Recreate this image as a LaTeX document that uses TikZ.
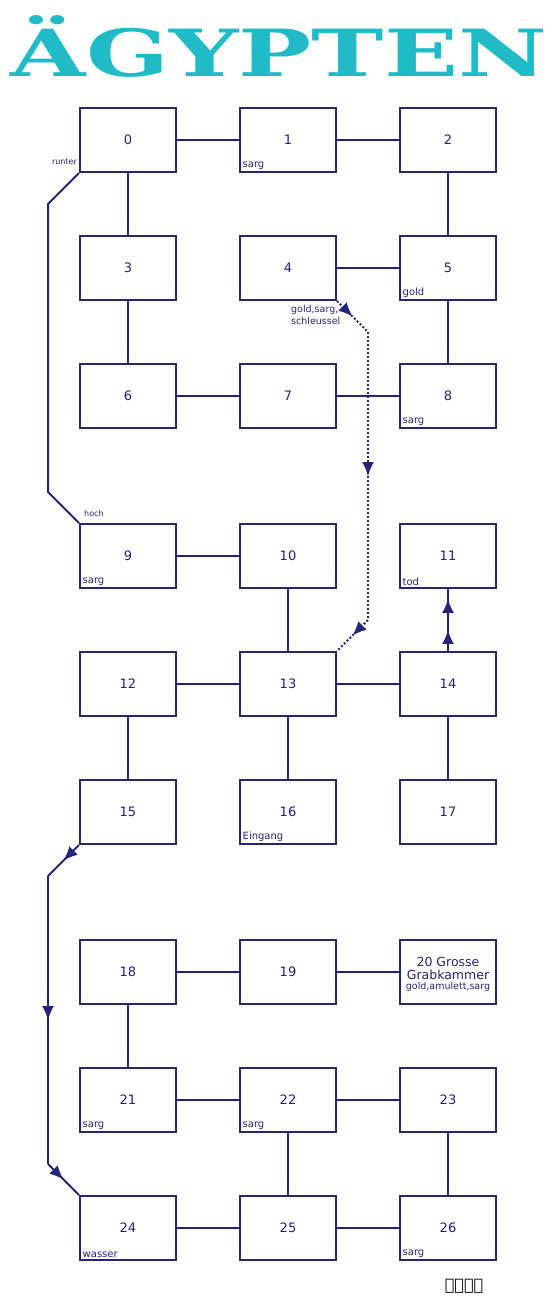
\documentclass[tikz,border=0pt]{standalone}
\usepackage{fontspec}
\setmainfont{DejaVu Sans}
\newfontfamily\titlefont{DejaVu Serif}
\newfontfamily\runefont{DejaVu Sans}
\usetikzlibrary{arrows.meta,decorations.markings}
\definecolor{ink}{RGB}{35,35,120}
\definecolor{teal2}{RGB}{32,187,198}
\tikzset{
  room/.style={draw=ink, line width=2pt, minimum width=96pt, minimum height=64pt, inner sep=0pt, fill=white, text=ink, font=\fontsize{13}{15}\selectfont},
  lbl/.style={text=ink, font=\fontsize{10}{11}\selectfont, inner sep=3.5pt},
  tiny/.style={text=ink, font=\fontsize{8}{9}\selectfont, inner sep=0pt},
  conn/.style={draw=ink, line width=2pt},
  dotline/.style={draw=ink, line width=2pt, dash pattern=on 2pt off 2pt},
  midarrow/.style={postaction={decorate}, decoration={markings, mark=at position 0.5 with {\arrow[ink]{Latex[length=14pt,width=12pt]}}}},
}
\begin{document}
\begin{tikzpicture}[x=1pt,y=-1pt]
\useasboundingbox (0,0) rectangle (556,1304);
% title
\node[anchor=base, text=teal2, inner sep=0pt] (title) at (279,76) {\resizebox{536pt}{61pt}{\titlefont\bfseries ÄGYPTEN}};
% free ends of the bent connectors
\coordinate (a1) at (48,204);
\coordinate (a2) at (48,492);
\coordinate (b1) at (368,332);
\coordinate (b2) at (368,620);
\coordinate (c1) at (48,876);
\coordinate (c2) at (48,1164);
% rooms
\node[room] (n0) at (128,140) {0};
\node[room, label={[lbl,anchor=south west]south west:sarg}] (n1) at (288,140) {1};
\node[room] (n2) at (448,140) {2};
\node[room] (n3) at (128,268) {3};
\node[room] (n4) at (288,268) {4};
\node[room, label={[lbl,anchor=south west]south west:gold}] (n5) at (448,268) {5};
\node[room] (n6) at (128,396) {6};
\node[room] (n7) at (288,396) {7};
\node[room, label={[lbl,anchor=south west]south west:sarg}] (n8) at (448,396) {8};
\node[room, label={[lbl,anchor=south west]south west:sarg}] (n9) at (128,556) {9};
\node[room] (n10) at (288,556) {10};
\node[room, label={[lbl,anchor=south west]south west:tod}] (n11) at (448,556) {11};
\node[room] (n12) at (128,684) {12};
\node[room] (n13) at (288,684) {13};
\node[room] (n14) at (448,684) {14};
\node[room] (n15) at (128,812) {15};
\node[room, label={[lbl,anchor=south west]south west:Eingang}] (n16) at (288,812) {16};
\node[room] (n17) at (448,812) {17};
\node[room] (n18) at (128,972) {18};
\node[room] (n19) at (288,972) {19};
\node[room] (n20) at (448,972) {};
\node[text=ink, font=\fontsize{12.5}{15}\selectfont, inner sep=0pt, align=center] (n20t) at (448,974) {20 Grosse\\[-2pt]Grabkammer\\[-5pt]{\fontsize{9.5}{10}\selectfont gold,amulett,sarg}};
\node[room, label={[lbl,anchor=south west]south west:sarg}] (n21) at (128,1100) {21};
\node[room, label={[lbl,anchor=south west]south west:sarg}] (n22) at (288,1100) {22};
\node[room] (n23) at (448,1100) {23};
\node[room, label={[lbl,anchor=south west]south west:wasser}] (n24) at (128,1228) {24};
\node[room] (n25) at (288,1228) {25};
\node[room, label={[lbl,anchor=south west]south west:sarg}] (n26) at (448,1228) {26};
% plain connectors
\foreach \u/\v in {0/1,1/2,0/3,2/5,4/5,3/6,5/8,6/7,7/8,9/10,10/13,12/13,13/14,12/15,13/16,14/17,18/19,19/20,18/21,21/22,22/23,22/25,23/26,24/25,25/26}
  \draw[conn] (n\u) -- (n\v);
% 14 -> 11 with two arrowheads
\draw[conn, postaction={decorate}, decoration={markings,
  mark=at position 0.34 with {\arrow[ink]{Latex[length=14pt,width=12pt]}},
  mark=at position 0.84 with {\arrow[ink]{Latex[length=14pt,width=12pt]}}}] (n14) -- (n11);
% runter / hoch
\draw[conn] (n0.south west) -- (a1) -- (a2) -- (n9.north west);
\node[tiny, anchor=base east] (runter) at (77,164) {runter};
\node[tiny, anchor=base west] (hoch) at (84,516) {hoch};
% dotted 4 -> 13
\draw[dotline, midarrow] (n4.south east) -- (b1);
\draw[dotline, midarrow] (b1) -- (b2);
\draw[dotline, midarrow] (b2) -- (n13.north east);
\node[text=ink, font=\fontsize{9.5}{12.5}\selectfont, inner sep=0pt, anchor=north west, align=left] (items4) at (291,305) {gold,sarg,\\schleussel};
% 15 -> 24
\draw[conn, midarrow] (n15.south west) -- (c1);
\draw[conn, midarrow] (c1) -- (c2);
\draw[conn, midarrow] (c2) -- (n24.north west);
% runes
\node[anchor=base, inner sep=0pt, font=\fontsize{16}{18}\selectfont\runefont\bfseries] (runes) at (464,1290) {ᚨᛚᛗᛉ};
\end{tikzpicture}
\end{document}
